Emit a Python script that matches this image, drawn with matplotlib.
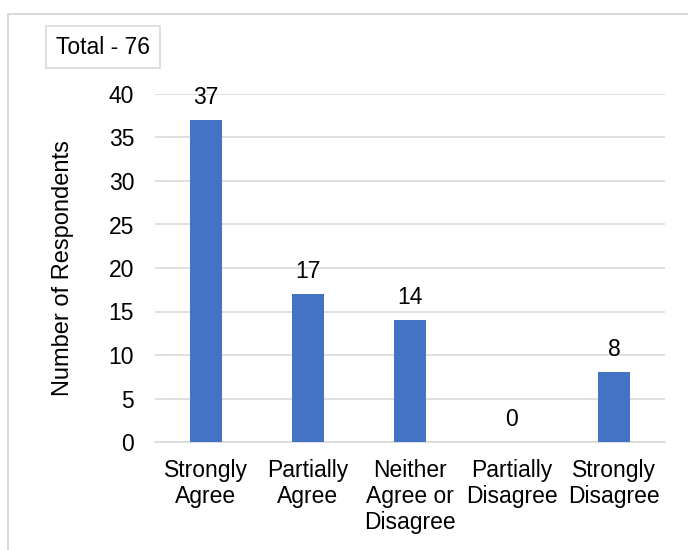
import matplotlib
matplotlib.use("Agg")
import matplotlib.pyplot as plt
from matplotlib.patches import Rectangle

plt.rcParams['font.family'] = ['Liberation Sans', 'DejaVu Sans']

categories = ["Strongly\nAgree", "Partially\nAgree", "Neither\nAgree or\nDisagree",
              "Partially\nDisagree", "Strongly\nDisagree"]
values = [37, 17, 14, 0, 8]
yticks = [0, 5, 10, 15, 20, 25, 30, 35, 40]
total_label = "Total - 76"

FS = 16.5
fig = plt.figure(figsize=(6.88, 5.5), dpi=100)
W, H = 688, 550

# outer chart frame
fig.patches.append(Rectangle((8 / W, -0.1), 1.0, (H - 14) / H + 0.1,
                             transform=fig.transFigure, fill=False,
                             edgecolor="#d9d9d9", linewidth=1.5))

ax = fig.add_axes([155 / W, (H - 442) / H, (665 - 155) / W, (442 - 94) / H])
x = list(range(len(categories)))
bars = ax.bar(x, values, width=0.31, color="#4472c4", zorder=3)
for xi, v in zip(x, values):
    ax.text(xi, v + 1.3, str(v), ha="center", va="bottom", fontsize=FS)

ax.set_xlim(-0.5, len(categories) - 0.5)
ax.set_ylim(0, 40)
ax.set_yticks(yticks)
ax.set_xticks(x)
ax.set_xticklabels(categories, fontsize=FS, linespacing=1.18)
ax.tick_params(axis="y", labelsize=FS, length=0, pad=15)
ax.tick_params(axis="x", length=0, pad=12)
ax.grid(axis="y", color="#d9d9d9", linewidth=1.2, zorder=0)
for s in ["top", "right", "left"]:
    ax.spines[s].set_visible(False)
ax.spines["bottom"].set_color("#d9d9d9")
ax.spines["bottom"].set_linewidth(1.2)
ax.set_ylabel("Number of Respondents", fontsize=17, labelpad=25)

fig.text(103 / W, 1 - 47 / H, total_label, ha="center", va="center", fontsize=FS,
         bbox=dict(boxstyle="square,pad=0.42", facecolor="white",
                   edgecolor="#d9d9d9", linewidth=1.2))

fig.savefig("out.png", dpi=100)
